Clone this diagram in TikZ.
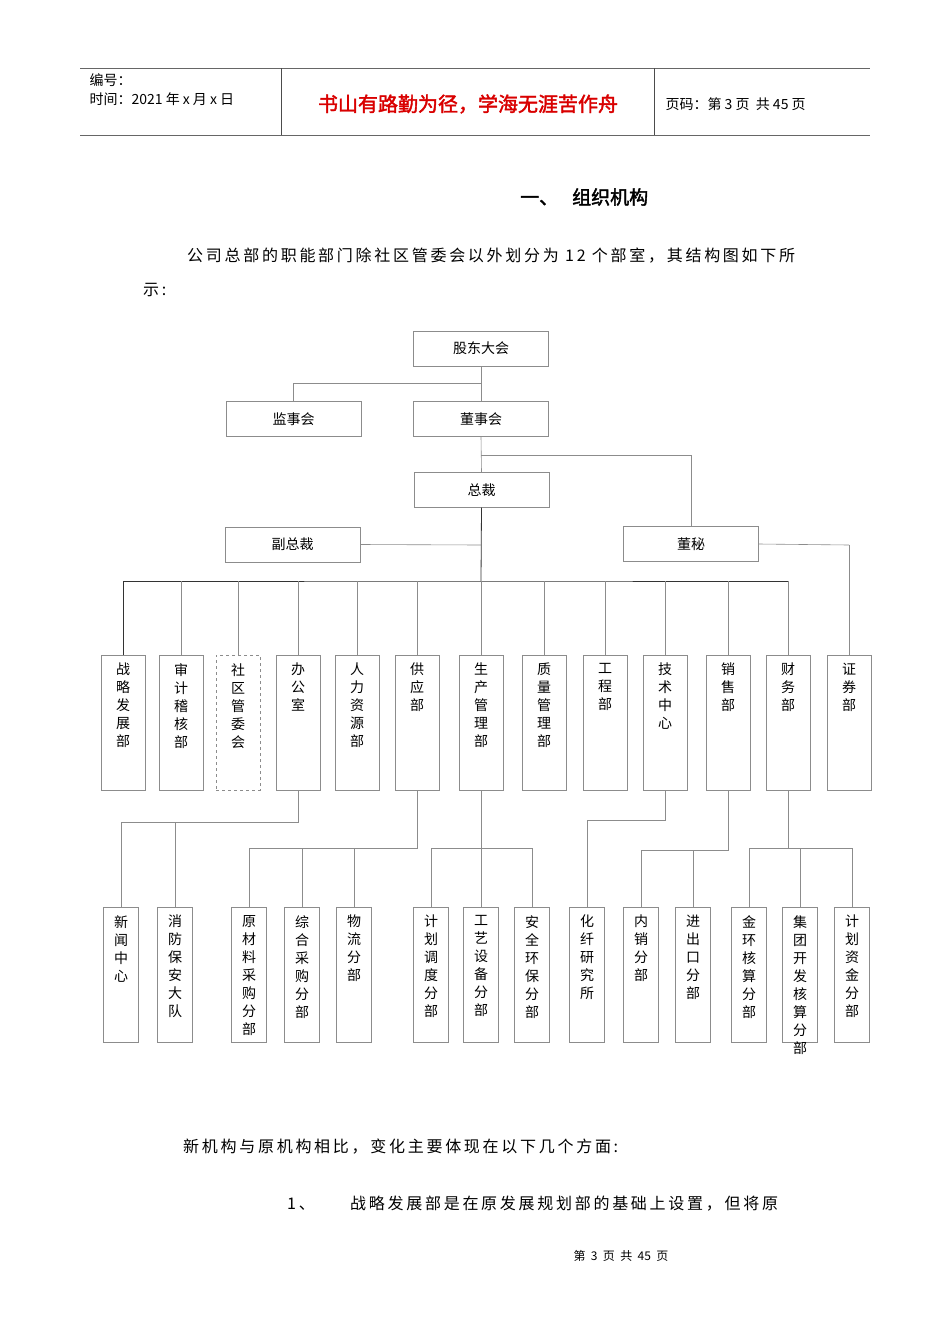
\documentclass[tikz,border=0pt]{standalone}
\usepackage{fontspec}
\setmainfont{Liberation Sans}
\newfontfamily\cjk{Noto Sans CJK SC}
\newfontfamily\cjkp{Noto Sans CJK SC}[LetterSpace=17]
\newfontfamily\cjkb{Noto Sans CJK SC}[FakeBold=2]
\begin{document}
\begin{tikzpicture}[x=1pt,y=-1pt,
  hbox/.style={draw=black!45,minimum width=135pt,minimum height=35pt,font=\cjk\fontsize{14}{16}\selectfont,inner sep=0},
  vbox/.style={draw=black!45,minimum width=44pt,minimum height=135pt,anchor=north,inner sep=0},
  sbox/.style={draw=black!45,minimum width=35pt,minimum height=135pt,anchor=north,inner sep=0},
  vtxt/.style={anchor=north,align=center,font=\cjk\fontsize{14}{18}\selectfont,inner sep=0},
  para/.style={font=\cjkp\fontsize{16}{18}\selectfont,anchor=west,inner sep=0},
  ln/.style={draw=black!45,line width=0.6pt},
  dk/.style={draw=black!80,line width=0.8pt}]
\fill[white] (0,0) rectangle (950,1344);
\useasboundingbox (0,0) rectangle (950,1344);
% header
\draw[black!60,line width=1pt] (80,68) -- (870,68) (80,135) -- (870,135);
\draw[black!70] (281,68) -- (281,135) (654,68) -- (654,135);
\node[anchor=west,font=\cjk\fontsize{14}{16}\selectfont] (h1) at (86,80) {编号：};
\node[anchor=west,font=\cjk\fontsize{14}{16}\selectfont] (h2) at (86,99) {时间：2021 年 x 月 x 日};
\node[font=\cjkb\fontsize{20}{22}\selectfont,text=red!85!black] (h3) at (468,104) {书山有路勤为径，学海无涯苦作舟};
\node[anchor=west,font=\cjk\fontsize{14}{16}\selectfont] (h4) at (662,104) {页码：第 3 页\ \ 共 45 页};
% title and text
\node[font=\cjkb\fontsize{19}{22}\selectfont,anchor=west,inner sep=0] (t) at (520,197) {一、\hspace{14pt}组织机构};
\node[para] (p1) at (187,256) {公司总部的职能部门除社区管委会以外划分为 12 个部室，其结构图如下所};
\node[para] (p2) at (143,290) {示:};
\node[para] (p3) at (183,1147) {新机构与原机构相比，变化主要体现在以下几个方面:};
\node[para] (p4) at (287,1204) {1、};
\node[para] (p5) at (350,1204) {战略发展部是在原发展规划部的基础上设置，但将原};
\node[font=\cjk\fontsize{12}{14}\selectfont] (ft) at (621,1256) {第\ \ 3\ \ 页\ \ 共\ \ 45\ \ 页};
% top boxes
\node[hbox] (gd) at (481,348.5) {股东大会};
\node[hbox] (js) at (293.5,419) {监事会};
\node[hbox] (ds) at (481,419) {董事会};
\node[hbox] (zc) at (481.5,490) {总裁};
\node[hbox] (fz) at (292.5,544.5) {副总裁};
\node[hbox] (dm) at (691,544) {董秘};
\coordinate (b1) at (481,383);
\draw[ln] (gd.south) -- (b1) -| (js.north);
\draw[ln] (b1) -- (ds.north);
\coordinate (b2) at (481,455);
\draw[ln] (ds.south) -- (zc.north);
\draw[ln] (b2) -| (dm.north);
\coordinate (bus) at (481,581);
\draw[dk] (zc.south) -- (bus);
\draw[ln] (fz.east) -- (481,545);
\coordinate (zq) at (849,545);
\draw[ln] (dm.east) -- (zq);
% departments
\foreach \n/\x/\t in {a/123/战\\略\\发\\展\\部, b/181/审\\计\\稽\\核\\部, d/298/办\\公\\室, e/357/人\\力\\资\\源\\部, f/417/供\\应\\部, g/481/生\\产\\管\\理\\部, h/544/质\\量\\管\\理\\部, i/605/工\\程\\部, j/665/技\\术\\中\\心, k/728/销\\售\\部, l/788/财\\务\\部, m/849/证\\券\\部}{
  \node[vbox] (\n) at (\x,655) {};
  \node[vtxt] (\n t) at (\x,663) {\t};
}
\node[vbox,dashed] (c) at (238,655) {};
\node[vtxt] (ct) at (238,663) {社\\区\\管\\委\\会};
\draw[dk] (a.north) |- (bus) -- (l.north |- bus);
\foreach \n in {b,c,d,e,f,g,h,i,j,k} \draw[ln] (\n.north) -- (\n.north |- bus);
\draw[ln] (l.north) -- (l.north |- bus);
\draw[ln] (zq) -- (m.north);
% sub departments
\foreach \n/\x/\t in {s1/121/新\\闻\\中\\心, s2/175/消\\防\\保\\安\\大\\队, s3/249/原\\材\\料\\采\\购\\分\\部, s4/302/综\\合\\采\\购\\分\\部, s5/354/物\\流\\分\\部, s6/431/计\\划\\调\\度\\分\\部, s7/481/工\\艺\\设\\备\\分\\部, s8/532/安\\全\\环\\保\\分\\部, s9/587/化\\纤\\研\\究\\所, s10/641/内\\销\\分\\部, s11/693/进\\出\\口\\分\\部, s12/749/金\\环\\核\\算\\分\\部, s13/800/集\\团\\开\\发\\核\\算\\分\\部, s14/852/计\\划\\资\\金\\分\\部}{
  \node[sbox] (\n) at (\x,907) {};
  \node[vtxt] (\n t) at (\x,915) {\t};
}
\draw[ln] (d.south) |- (s1.north |- 0,822) -- (s1.north);
\draw[ln] (s2.north) -- (s2.north |- 0,822);
\draw[ln] (f.south) |- (s3.north |- 0,848) -- (s3.north);
\foreach \n in {s4,s5} \draw[ln] (\n.north) -- (\n.north |- 0,848);
\draw[ln] (g.south) -- (g.south |- 0,848);
\draw[ln] (s6.north) |- (s8.north |- 0,848) -- (s8.north);
\draw[ln] (s7.north) -- (s7.north |- 0,848);
\draw[ln] (j.south) |- (s9.north |- 0,820) -- (s9.north);
\draw[ln] (k.south) |- (s10.north |- 0,850) -- (s10.north);
\draw[ln] (s11.north) -- (s11.north |- 0,850);
\draw[ln] (l.south) -- (l.south |- 0,848);
\draw[ln] (s12.north) |- (s14.north |- 0,848) -- (s14.north);
\draw[ln] (s13.north) -- (s13.north |- 0,848);
\end{tikzpicture}
\end{document}
